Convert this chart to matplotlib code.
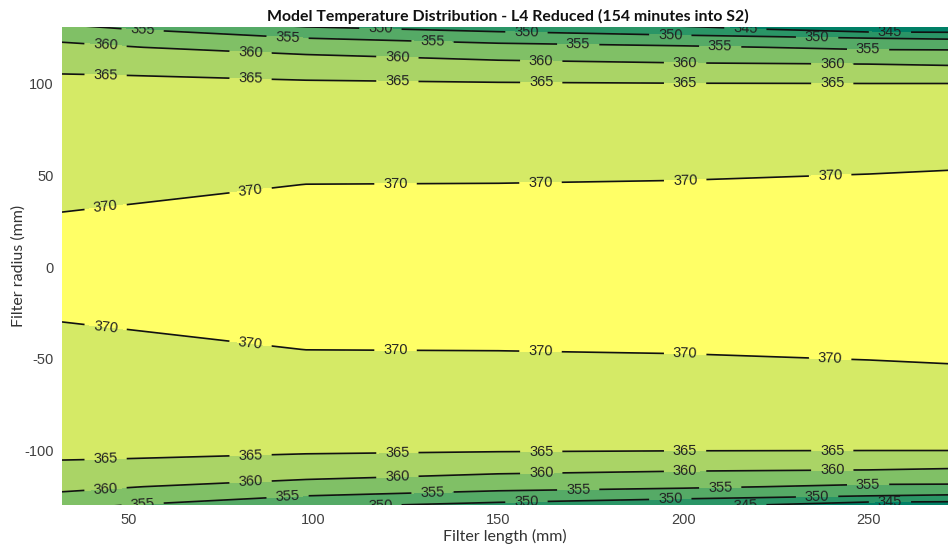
import numpy as np
import matplotlib
matplotlib.use("Agg")
import matplotlib.pyplot as plt

plt.rcParams["axes.unicode_minus"] = False

# Filter length nodes (mm)
lengths = [32, 98, 150, 200, 250, 275]
# Radius nodes (mm), upper half; field mirrored about r = 0
radii_half = [0, 30, 45, 55, 100, 105, 110, 115, 120, 125, 130, 135]
# Temperature at each radius node (rows) for each length column
temp_col_32 = [372, 370.00, 369.02, 368.37, 365.43, 365.10, 364.00, 362.51, 361.04, 359.17, 356.39, 353.60]
temp_col_98 = [372, 370.68, 370.02, 369.18, 365.33, 364.52, 362.54, 360.56, 357.91, 355.00, 351.09, 346.40]
temp_col_150 = [372, 370.71, 370.06, 369.24, 365.24, 363.88, 361.46, 359.00, 356.50, 353.15, 348.71, 344.70]
temp_col_200 = [372, 370.78, 370.17, 369.45, 365.15, 363.28, 360.76, 358.21, 355.66, 351.64, 346.60, 341.30]
temp_col_250 = [372, 370.87, 370.30, 369.78, 365.10, 363.00, 360.50, 357.50, 354.17, 350.00, 342.60, 341.00]
temp_col_275 = [372, 370.90, 370.35, 369.92, 365.11, 362.78, 360.00, 357.22, 354.11, 349.41, 342.50, 341.00]

line_levels = [345, 350, 355, 360, 365, 370]

title = "Model Temperature Distribution - L4 Reduced (154 minutes into S2)"
xlabel = "Filter length (mm)"
ylabel = "Filter radius (mm)"

# ---- build field ----
half = np.array([temp_col_32, temp_col_98, temp_col_150, temp_col_200,
                 temp_col_250, temp_col_275]).T  # shape (nr, nx)
r_half = np.array(radii_half, dtype=float)
r_full = np.concatenate([-r_half[::-1], r_half[1:]])
T = np.vstack([half[::-1], half[1:]])
X, Y = np.meshgrid(np.array(lengths, dtype=float), r_full)

fig = plt.figure(figsize=(9.48, 5.5), dpi=100)
ax = fig.add_axes([62 / 948, 1 - 505 / 550, 1 - 62 / 948, (505 - 27) / 550])

fill_levels = [330] + line_levels + [380]
colors = [plt.cm.summer(i / 6) for i in range(7)]
ax.contourf(X, Y, T, levels=fill_levels, colors=colors)
cs = ax.contour(X, Y, T, levels=line_levels, colors="#111111", linewidths=1.2)

# label positions (layout only)
top_pos = [
    (53.8, 129.5), (93, 125.7), (132.2, 123), (171.6, 122.5), (210, 121.3), (250, 119.7),
    (43.8, 122.4), (83, 117.5), (122.7, 114.8), (161.6, 113.1), (200.5, 111.5), (240.3, 110.9),
    (43.8, 105.5), (83, 103.8), (122.7, 102.7), (161.6, 102.2), (200.5, 101.6), (240.3, 101.1),
    (118.1, 130), (157.6, 127.9), (196.5, 126.8), (236.2, 125.1),
    (216.8, 130.6), (255.9, 128.8),
    (43.8, 32.8), (83, 42.1), (122.2, 45.4), (161.4, 46.4), (200.5, 49.2), (239.7, 51.9),
]
bot_pos = [
    (43.8, -32.8), (83, -41.5), (122.2, -45.9), (161.4, -47.0), (200.5, -49.2), (239.7, -51.9),
    (43.8, -105.5), (83, -103.3), (122.7, -102.0), (161.6, -101.4), (200.5, -101.4), (240.3, -100.8),
    (43.8, -122.4), (83, -118.0), (122.7, -114.8), (161.6, -112.6), (200.5, -111.5), (240.3, -110.4),
    (53.8, -129.5), (93, -125.7), (132.2, -123.5), (171.6, -122.4), (210, -120.8), (250, -119.7),
    (118.1, -130), (157.6, -128.4), (196.5, -126.8), (236.2, -125.7),
    (216.8, -130.6), (255.9, -128.8),
]
texts = ax.clabel(cs, fmt="%d", fontsize=10.5, manual=top_pos + bot_pos, inline=True,
                  inline_spacing=7, colors="#222222")
for t in texts:
    t.set_family("Liberation Sans")

ax.set_xlim(32, 271.6)
ax.set_ylim(-130, 131.1)
ax.set_xticks([50, 100, 150, 200, 250])
ax.set_yticks([-100, -50, 0, 50, 100])
for s in ax.spines.values():
    s.set_visible(False)
ax.tick_params(length=0, labelsize=10.5, colors="#404040", pad=6)
for lab in ax.get_xticklabels() + ax.get_yticklabels():
    lab.set_family("Liberation Sans")

ax.set_xlabel(xlabel, fontsize=11.5, family="Lato", color="#333333")
ax.set_ylabel(ylabel, fontsize=11.5, family="Lato", color="#333333")
ax.xaxis.set_label_coords(0.5, -(529 - 505) / 478)
ax.yaxis.set_label_coords(-(62 - 26) / 886, 0.5)
fig.text(0.536, 1 - 16 / 550, title, ha="center", va="center", fontsize=11.4,
         fontweight="bold", family="Lato", color="#111111")

fig.savefig("out.png", dpi=100)
